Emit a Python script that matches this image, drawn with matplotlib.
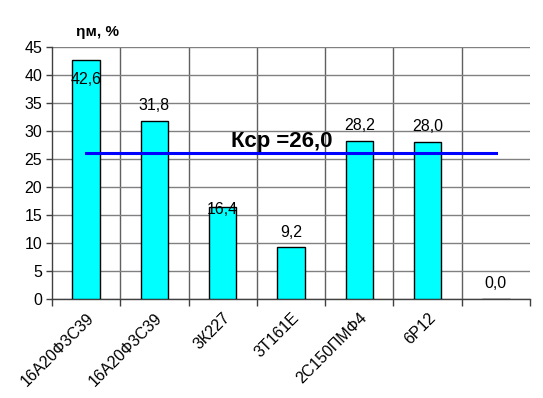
import matplotlib
matplotlib.use("Agg")
import matplotlib.pyplot as plt
import numpy as np

categories = ["16А20Ф3С39", "16А20Ф3С39", "3К227", "3Т161Е", "2С150ПМФ4", "6Р12", ""]
values = [42.6, 31.8, 16.4, 9.2, 28.2, 28.0, 0.0]
value_labels = ["42,6", "31,8", "16,4", "9,2", "28,2", "28,0", "0,0"]
k_avg = 26.0
k_label = "Кср =26,0"
y_label = "ηм, %"
y_ticks = [0, 5, 10, 15, 20, 25, 30, 35, 40, 45]

plt.rcParams['font.family'] = ['Liberation Sans', 'DejaVu Sans']

fig = plt.figure(figsize=(5.43, 3.98), dpi=100)
ax = fig.add_axes([52/543, 1-299/398, (530-52)/543, (299-47)/398])

x = np.arange(len(categories))
ax.bar(x, values, width=0.4, color="#00FFFF", edgecolor="black", linewidth=1.0, zorder=3)

ax.set_xlim(-0.5, len(categories) - 0.5)
ax.set_ylim(0, 45)
ax.set_yticks(y_ticks)
ax.tick_params(axis='y', labelsize=11.5, length=4, width=1, color="#404040", pad=3)

# horizontal grid
ax.yaxis.grid(True, color="#808080", linewidth=1.0, zorder=0)
# vertical grid at inner category boundaries
for b in np.arange(0.5, len(categories) - 1, 1.0):
    ax.axvline(b, color="#606060", linewidth=1.0, zorder=0)

# x ticks: labels at centers, tick marks at boundaries
ax.set_xticks(x)
ax.set_xticklabels(categories, rotation=45, ha='right', rotation_mode='anchor', fontsize=11.5)
ax.tick_params(axis='x', which='major', length=0, pad=8)
ax.set_xticks(np.arange(-0.5, len(categories), 1.0), minor=True)
ax.tick_params(axis='x', which='minor', length=5, width=1, color="#404040", direction='out')

for s in ['top', 'right']:
    ax.spines[s].set_visible(False)
for s in ['left', 'bottom']:
    ax.spines[s].set_color("#404040")
    ax.spines[s].set_linewidth(1.0)

# value labels
offsets = [-14, 11, -2, 11, 11, 11, 11]
for xi, v, lab, off in zip(x, values, value_labels, offsets):
    ax.annotate(lab, (xi, v), xytext=(0, off), textcoords='offset points',
                ha='center', va='center', fontsize=11.5, zorder=5)

# average line
ax.plot([x[0], x[-1]], [k_avg, k_avg], color="#0000FF", linewidth=2.2, zorder=4)
ax.text(2.87, 28.1, k_label, ha='center', va='center', fontsize=16, fontweight='bold', zorder=5)

ax.text(0.16, 47.6, y_label, ha='center', va='center', fontsize=11, fontweight='bold', clip_on=False)

fig.savefig("out.png", dpi=100)
